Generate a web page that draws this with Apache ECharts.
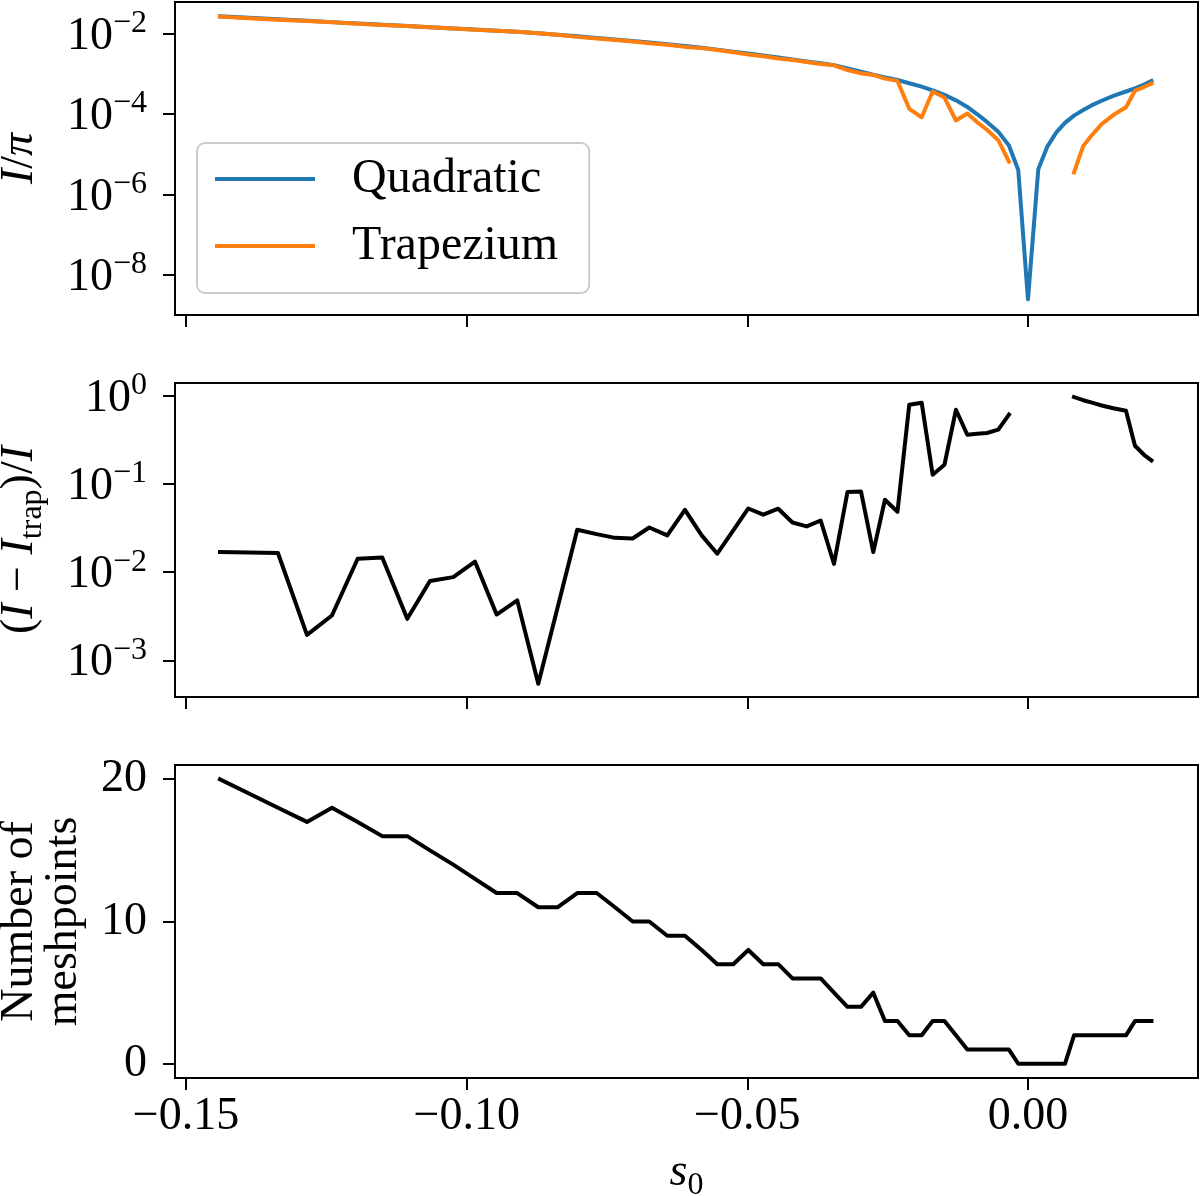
<!DOCTYPE html>
<html><head><meta charset="utf-8">
<script src="https://cdn.jsdelivr.net/npm/echarts@6/dist/echarts.min.js"></script>
<style>html,body{margin:0;padding:0;background:#fff}#c{width:1200px;height:1196px}</style>
</head><body><div id="c"></div>
<script>
const s0 = [-0.14395, -0.13879, -0.13362, -0.12845, -0.12400, -0.11942, -0.11504, -0.11058, -0.10654, -0.10239,
  -0.09852, -0.09466, -0.09099, -0.08724, -0.08382, -0.08030, -0.07684, -0.07358, -0.07043, -0.06747,
  -0.06426, -0.06111, -0.05813, -0.05535, -0.05250, -0.04983, -0.04716, -0.04449, -0.04196, -0.03943,
  -0.03693, -0.03456, -0.03216, -0.02975, -0.02756, -0.02548, -0.02325, -0.02115, -0.01894, -0.01698,
  -0.01488, -0.01283, -0.01081, -0.00909, -0.00730, -0.00529, -0.00339, -0.00173, 0.00000, 0.00184,
  0.00347, 0.00508, 0.00659, 0.00820, 0.00985, 0.01140, 0.01313, 0.01520, 0.01746, 0.01906,
  0.02067, 0.02200];
const quadratic = [2.67e-2, 2.45e-2, 2.25e-2, 2.07e-2, 1.92e-2, 1.78e-2, 1.66e-2, 1.54e-2, 1.44e-2, 1.34e-2,
  1.26e-2, 1.18e-2, 1.11e-2, 1.02e-2, 9.33e-3, 8.51e-3, 7.76e-3, 7.11e-3, 6.49e-3, 5.96e-3,
  5.40e-3, 4.90e-3, 4.45e-3, 3.98e-3, 3.55e-3, 3.18e-3, 2.85e-3, 2.54e-3, 2.28e-3, 2.03e-3,
  1.82e-3, 1.64e-3, 1.35e-3, 1.12e-3, 9.55e-4, 8.13e-4, 7.00e-4, 5.82e-4, 4.79e-4, 3.89e-4,
  2.99e-4, 2.19e-4, 1.50e-4, 1.00e-4, 6.38e-5, 3.63e-5, 1.66e-5, 4.07e-6, 2.5e-9, 4.27e-6,
  1.58e-5, 3.55e-5, 6.03e-5, 9.12e-5, 1.26e-4, 1.66e-4, 2.14e-4, 2.82e-4, 3.63e-4, 4.37e-4,
  5.37e-4, 6.61e-4];
const trapezium = [2.62e-2, 2.40e-2, 2.21e-2, 2.06e-2, 1.91e-2, 1.75e-2, 1.63e-2, 1.53e-2, 1.43e-2, 1.33e-2,
  1.24e-2, 1.18e-2, 1.11e-2, 1.02e-2, 9.29e-3, 8.26e-3, 7.55e-3, 6.93e-3, 6.32e-3, 5.75e-3,
  5.25e-3, 4.66e-3, 4.34e-3, 3.92e-3, 3.44e-3, 3.01e-3, 2.72e-3, 2.40e-3, 2.19e-3, 1.97e-3,
  1.75e-3, 1.62e-3, 1.24e-3, 1.03e-3, 9.38e-4, 7.59e-4, 6.67e-4, 1.35e-4, 8.32e-5, 3.63e-4,
  2.57e-4, 6.92e-5, 1.03e-4, 6.31e-5, 4.07e-5, 2.24e-5, 6.61e-6, null, null, null,
  null, null, null, 3.55e-6, 1.62e-5, 3.02e-5, 5.62e-5, 9.44e-5, 1.47e-4, 3.80e-4,
  4.68e-4, 5.75e-4];
const relErr = [1.69e-2, 1.67e-2, 1.65e-2, 1.95e-3, 3.23e-3, 1.42e-2, 1.47e-2, 2.96e-3, 7.93e-3, 8.79e-3,
  1.32e-2, 3.31e-3, 4.78e-3, 5.43e-4, 3.93e-3, 3.03e-2, 2.70e-2, 2.45e-2, 2.41e-2, 3.21e-2,
  2.61e-2, 5.09e-2, 2.61e-2, 1.62e-2, 2.97e-2, 5.27e-2, 4.48e-2, 5.24e-2, 3.66e-2, 3.30e-2,
  3.85e-2, 1.24e-2, 8.09e-2, 8.22e-2, 1.69e-2, 6.62e-2, 4.84e-2, 0.791, 0.834, 0.127,
  0.165, 0.693, 0.361, 0.371, 0.378, 0.412, 0.610, null, null, null,
  null, null, null, 0.966, 0.889, 0.834, 0.774, 0.721, 0.676, 0.271,
  0.214, 0.185];
const meshpoints = [20, 19, 18, 17, 18, 17, 16, 16, 15, 14,
  13, 12, 12, 11, 11, 12, 12, 11, 10, 10,
  9, 9, 8, 7, 7, 8, 7, 7, 6, 6,
  6, 5, 4, 4, 5, 3, 3, 2, 2, 3,
  3, 2, 1, 1, 1, 1, 1, 0, 0, 0,
  0, 0, 0, 2, 2, 2, 2, 2, 2, 3,
  3, 3];
const xTicks = [-0.15, -0.10, -0.05, 0.00];
const yTicks1 = [1e-8, 1e-6, 1e-4, 1e-2];
const yTicks2 = [1e-3, 1e-2, 1e-1, 1];
const yTicks3 = [0, 10, 20];
const seriesNames = ['Quadratic', 'Trapezium'];

const FONT = 'Liberation Serif';
const FS = 46;
const LW = 4;
const pair = arr => s0.map((x, i) => [x, arr[i] === null ? '-' : arr[i]]);

const supRich = {
  b: {fontFamily: FONT, fontSize: FS, lineHeight: 52, verticalAlign: 'bottom', color: '#000'},
  s: {fontFamily: FONT, fontSize: 32, lineHeight: 32, verticalAlign: 'top', color: '#000'}
};
const nameRich = {
  r: {fontFamily: FONT, fontSize: FS, lineHeight: 52, verticalAlign: 'top', color: '#000'},
  i: {fontFamily: FONT, fontSize: FS, lineHeight: 52, verticalAlign: 'top', fontStyle: 'italic', color: '#000'},
  sub: {fontFamily: FONT, fontSize: 32, lineHeight: 32, verticalAlign: 'bottom', color: '#000'}
};
const logFmt = v => {
  const e = Math.round(Math.log10(v));
  return '{b|10}{s|' + (e < 0 ? '\u2212' : '') + Math.abs(e) + '}';
};

const xMin = -0.15196, xMax = 0.03029;
function xAxis(idx, showLabels) {
  return {
    type: 'value', gridIndex: idx, min: xMin, max: xMax,
    axisLine: {show: true, onZero: false, lineStyle: {color: '#000', width: 2}},
    axisTick: {show: true, length: 12, lineStyle: {color: '#000', width: 2}, customValues: xTicks},
    axisLabel: {show: showLabels, customValues: xTicks, margin: 16, fontFamily: FONT, fontSize: FS, color: '#000',
      formatter: v => v.toFixed(2).replace('-', '\u2212')},
    splitLine: {show: false}
  };
}
function yAxisBase(idx) {
  return {
    gridIndex: idx, nameLocation: 'middle', nameRotate: 90,
    axisLine: {show: true, onZero: false, lineStyle: {color: '#000', width: 2}},
    splitLine: {show: false}, minorTick: {show: false}
  };
}
const gridBase = {left: 175, right: 2, show: true, borderColor: '#000', borderWidth: 2,
  backgroundColor: 'transparent', containLabel: false, outerBoundsMode: 'none'};

const option = {
  animation: false,
  backgroundColor: '#fff',
  grid: [
    Object.assign({top: 2, height: 313}, gridBase),
    Object.assign({top: 383, height: 314}, gridBase),
    Object.assign({top: 765, height: 313}, gridBase)
  ],
  legend: {
    data: seriesNames, orient: 'vertical', left: 197, top: 143,
    icon: 'rect', itemWidth: 100, itemHeight: 4, itemGap: 11,
    padding: [8, 31, 19, 18],
    backgroundColor: 'rgba(255,255,255,0.8)', borderColor: '#cccccc', borderWidth: 2, borderRadius: 8,
    selectedMode: false,
    textStyle: {fontFamily: FONT, fontSize: 48, lineHeight: 56, color: '#000', padding: [0, 0, 0, 32]}
  },
  xAxis: [xAxis(0, false), xAxis(1, false), Object.assign(xAxis(2, true), {
    name: '{i|s}{sub|0}', nameLocation: 'middle', nameGap: 72,
    nameTextStyle: {fontFamily: FONT, fontSize: FS, color: '#000', rich: nameRich}
  })],
  yAxis: [
    Object.assign(yAxisBase(0), {
      type: 'log', logBase: 10, min: 1.02e-9, max: 0.0607,
      axisTick: {show: true, length: 12, lineStyle: {color: '#000', width: 2}, customValues: yTicks1},
      axisLabel: {customValues: yTicks1, margin: 28, formatter: logFmt, rich: supRich},
      name: '{i|I}{r|/}{i|\u03c0}', nameGap: 126,
      nameTextStyle: {fontFamily: FONT, fontSize: FS, color: '#000', rich: nameRich}
    }),
    Object.assign(yAxisBase(1), {
      type: 'log', logBase: 10, min: 3.85e-4, max: 1.393,
      axisTick: {show: true, length: 12, lineStyle: {color: '#000', width: 2}, customValues: yTicks2},
      axisLabel: {customValues: yTicks2, margin: 28, formatter: logFmt, rich: supRich},
      name: '{r|(}{i|I}{r| \u2212 }{i|I}{sub|trap}{r|)/}{i|I}', nameGap: 126,
      nameTextStyle: {fontFamily: FONT, fontSize: FS, color: '#000', rich: nameRich}
    }),
    Object.assign(yAxisBase(2), {
      type: 'value', min: -1, max: 21,
      axisTick: {show: true, length: 12, lineStyle: {color: '#000', width: 2}, customValues: yTicks3},
      axisLabel: {customValues: yTicks3, margin: 28, fontFamily: FONT, fontSize: FS, color: '#000'},
      name: 'Number of\nmeshpoints', nameGap: 89,
      nameTextStyle: {fontFamily: FONT, fontSize: FS, lineHeight: 44, color: '#000'}
    })
  ],
  series: [
    {name: seriesNames[0], type: 'line', xAxisIndex: 0, yAxisIndex: 0, data: pair(quadratic),
      symbol: 'none', connectNulls: false, color: '#1f77b4',
      lineStyle: {color: '#1f77b4', width: LW, cap: 'square', join: 'round'}},
    {name: seriesNames[1], type: 'line', xAxisIndex: 0, yAxisIndex: 0, data: pair(trapezium),
      symbol: 'none', connectNulls: false, color: '#ff7f0e',
      lineStyle: {color: '#ff7f0e', width: LW, cap: 'square', join: 'round'}},
    {name: 'relErr', type: 'line', xAxisIndex: 1, yAxisIndex: 1, data: pair(relErr),
      symbol: 'none', connectNulls: false, color: '#000',
      lineStyle: {color: '#000', width: LW, cap: 'square', join: 'round'}},
    {name: 'mesh', type: 'line', xAxisIndex: 2, yAxisIndex: 2, data: pair(meshpoints),
      symbol: 'none', color: '#000',
      lineStyle: {color: '#000', width: LW, cap: 'square', join: 'round'}}
  ]
};
const chart = echarts.init(document.getElementById('c'));
chart.setOption(option);
</script></body></html>
